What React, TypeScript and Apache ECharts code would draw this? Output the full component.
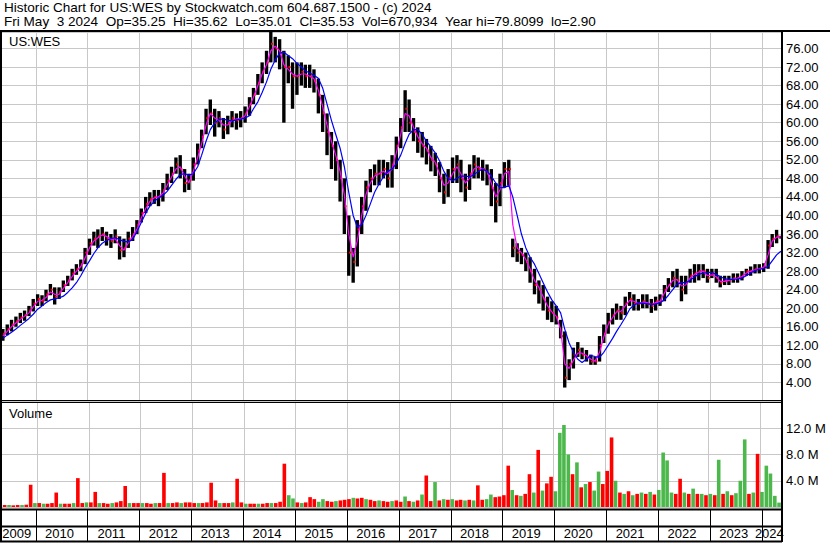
import React, { useEffect, useRef } from 'react';
import * as echarts from 'echarts';

// Monthly samples, May 2009 .. May 2024
const FIRST_YEAR = 2009;
const FIRST_MONTH = 5;

const high = [
  15.5, 16.5, 17.5, 18.2, 19, 19.5, 20.5, 22,
  23, 22.8, 24, 25.2, 24.5, 24.5, 26, 27, 28.5, 29.5, 30.5, 33,
  35, 36.5, 37, 37.5, 36.5, 36, 37, 35.5, 35, 36.5, 37.5, 39,
  41.5, 44, 45, 45.5, 45.5, 47, 49, 50.5, 52.5, 53, 50, 49,
  52.5, 55.5, 58.5, 63, 65, 63, 62.5, 61, 61.5, 62.5, 62, 62.5,
  63.5, 65.5, 67.5, 70.5, 73, 75.5, 79.8, 78.5, 78, 75.5, 74.5, 73,
  73, 73, 72.5, 72.5, 71.5, 69.5, 66, 62, 58, 56, 52, 48,
  40, 33, 39, 44, 47.5, 50, 51, 52, 52, 51.5, 53, 57,
  61, 67, 65, 61, 59, 58, 56.5, 55, 53.5, 51.5, 49, 50,
  52.5, 53, 52, 49, 51, 53, 52.5, 52, 51, 50, 47, 49,
  51.5, 52, 35, 34, 33, 32, 31, 28.5, 26, 25, 22.5, 21.5,
  20.5, 17.5, 15, 9, 11.5, 12.7, 11.5, 11, 10, 9.5, 14, 16.5,
  19, 20, 21, 20.5, 22.5, 23.5, 23, 22, 23, 23, 22, 22.5,
  23, 25, 26.5, 28, 28.5, 27, 27, 28.5, 29.5, 29.5, 29.5, 28.5,
  28.5, 28.5, 27, 27, 27, 27.5, 27.5, 28, 28.5, 29, 29.5, 29.5,
  29.7, 34.7, 36, 36.9, 35.62,
];

const low = [
  13, 14.2, 15, 16, 16.8, 17.3, 18.3, 19.3,
  20.5, 20.5, 21.5, 22.8, 20.8, 22, 23.5, 24.8, 26, 27.2, 28, 29.5,
  31.5, 33.5, 33, 34.5, 33.5, 33, 34, 30.5, 31, 33, 34.5, 36,
  38.5, 40.5, 42, 42.5, 42, 43, 45.5, 47, 49, 48, 45, 45.5,
  47.5, 51, 54.5, 57.5, 59.5, 57, 59, 56.5, 57.5, 59, 58.5, 59,
  60, 61.5, 64, 66, 68.5, 70.5, 73, 73, 71.5, 60, 68.5, 63,
  66, 68, 67.5, 67.5, 66.5, 62, 58, 53, 50, 47.5, 43, 36,
  27, 25.5, 29, 36, 41, 45, 46.5, 46.5, 48, 46, 46, 50,
  54.5, 58, 58, 56, 53.5, 52.5, 51, 49.5, 48.5, 45, 42.5, 44,
  47, 47, 45, 43, 45.5, 48, 48, 47.5, 46.5, 42, 38.5, 42,
  46, 46.5, 31, 30, 29.5, 28, 25.5, 23, 21, 19.5, 17.5, 17,
  16.5, 13.5, 2.9, 4.5, 7, 9.5, 9, 8.5, 7.8, 7.8, 8.5, 12.5,
  14.5, 16.5, 17.5, 17.5, 18.5, 20.5, 19.5, 19.5, 20, 20, 19, 19.5,
  20.5, 21.5, 23.5, 24.5, 24.5, 21.5, 23, 25.5, 25.5, 26, 26.5, 25.5,
  26.5, 25.5, 24.5, 25, 25, 25.5, 25.5, 26, 27, 27, 27.5, 27.5,
  27.8, 28.5, 33.2, 34, 35.01,
];

const close = [
  14.5, 15.5, 16.5, 17.2, 18, 18.5, 19.5, 21,
  22, 21.5, 23, 24, 22.5, 23.5, 25, 26, 27.5, 28.5, 29.5, 32,
  34, 35, 35.5, 36, 35, 34.5, 35.5, 32.5, 33, 35, 36, 38,
  40.5, 42.5, 43.5, 44, 44, 45.5, 47.5, 49, 51, 50, 47, 47.5,
  51, 54, 57, 61, 62, 60, 61, 58.5, 60, 61, 60.5, 61,
  62, 64, 66, 68.5, 71, 73, 77, 76, 75, 72, 72, 70,
  70, 71, 70, 70, 69, 66, 62, 58, 55, 52, 48, 42,
  32, 30, 37, 42, 46, 48, 49, 49, 50, 48, 51, 55,
  59, 63, 60, 58, 56, 55, 54, 52, 51, 48, 45, 48,
  50, 51, 48, 46, 49, 51, 50, 50, 49, 46, 43, 47,
  50, 50, 33, 32, 31.5, 30, 28, 25, 24, 22, 19.5, 19,
  18, 14, 5, 8, 10, 11, 10, 9.5, 8.5, 8.5, 12, 14.5,
  17, 18.5, 19.5, 19, 21, 22, 21, 21, 21.5, 21, 20.5, 21.5,
  21.5, 24, 25, 26.5, 26, 24, 25.5, 27, 27.5, 28, 28, 26.5,
  27.5, 26.5, 25.5, 26, 26, 26.5, 26.5, 27, 28, 28, 28.5, 28.5,
  29, 33.5, 35, 35.5, 35.53,
];

// magenta (short) moving average
const maShort = [
  14, 15, 16, 16.8, 17.6, 18.3, 19, 20.3,
  21.5, 21.7, 22.3, 23.5, 23, 23, 24.3, 25.5, 26.8, 28, 29, 30.8,
  33, 34.5, 35.2, 35.8, 35.5, 34.8, 35, 33.5, 32.5, 34, 35.5, 37,
  39.5, 41.5, 43, 43.8, 44, 44.8, 46.5, 48.3, 50, 50.5, 48.5, 47,
  49.5, 52.5, 55.5, 59.5, 62, 61, 60.5, 59.5, 59.5, 60.5, 60.8, 60.8,
  61.5, 63.5, 65.5, 68, 70.5, 72.5, 75.5, 76.5, 75.5, 72.5, 71.5, 70.5,
  70, 70.5, 70.5, 70, 69.5, 67, 63.5, 59.5, 56, 53, 49.5, 44.5,
  36, 31, 34.5, 40, 44.5, 47, 48.5, 49, 49.5, 49, 50, 53.5,
  57.5, 62, 61.5, 59, 57, 55.5, 54.5, 52.5, 51.5, 49, 46.5, 47,
  49, 50.5, 49, 47, 48, 50, 50.5, 50, 49.5, 47, 44, 45.5,
  49, 49.5, 38, 33, 32, 30.5, 28.5, 26, 24.5, 22.5, 20.5, 19.2,
  18.3, 15.5, 8, 7, 8.8, 10.3, 10.3, 9.8, 9, 8.6, 10.5, 13.8,
  16.5, 18, 19.2, 19.3, 20.5, 21.7, 21.5, 21, 21.3, 21.2, 20.8, 21.2,
  21.5, 23.3, 24.7, 26, 26.2, 24.8, 25, 26.5, 27.3, 27.8, 28, 27,
  27.2, 26.8, 25.8, 25.8, 26, 26.3, 26.5, 26.8, 27.6, 28, 28.3, 28.5,
  28.8, 31.5, 34.5, 35.3, 35.4,
];

// blue (long) moving average
const maLong = [
  13.5, 14.2, 14.8, 15.5, 16.3, 17, 17.8, 18.7,
  19.8, 20.5, 21.2, 21.8, 22, 22.2, 22.6, 23.4, 24.4, 25.5, 27, 28.7,
  30.2, 31.8, 33, 34, 34.6, 35, 35.2, 34.8, 34.4, 34.3, 34.8, 36.5,
  38.5, 40.5, 42, 43, 43.8, 44.3, 45.2, 46.5, 47.8, 48.8, 49, 48.7,
  49, 50.5, 53, 56, 58.5, 60, 60.7, 60.8, 60.5, 60.4, 60.6, 60.8,
  61, 61.5, 63, 64.5, 66.5, 68.8, 71.5, 73.5, 75, 75.2, 74.5, 73.8,
  72.8, 72, 71.2, 70.7, 70.2, 69.6, 67.5, 64, 60.5, 57.5, 54.5, 50.5,
  45, 40, 37.5, 38, 40, 42.5, 45, 46.8, 48.3, 49.5, 50, 51.2,
  53, 55.5, 57.5, 58.5, 58.5, 57.5, 56, 54.8, 53.5, 51.8, 49.5, 48,
  47.5, 48, 48.5, 48.5, 48.3, 48.8, 49.5, 50, 49.5, 48.5, 47, 46,
  46, 46.5, 44, 40, 36, 33, 31, 29.5, 27.5, 25.5, 23.5, 21.8,
  20.5, 19, 15.5, 12.5, 10.5, 9, 8.3, 9, 9.8, 9.6, 9.4, 10.5,
  12, 13.5, 15, 16.5, 18, 19.8, 20.7, 21.1, 21.1, 21, 20.8, 20.9,
  21.2, 21.8, 22.8, 24, 25.2, 25.5, 25.5, 26, 26.8, 27.3, 27.6, 27.7,
  27.7, 27.3, 26.8, 26.4, 26.2, 26.2, 26.3, 26.5, 27, 27.6, 28.1, 28.4,
  28.6, 29, 30.2, 31.5, 32.3,
];

// volume in millions
const volume = [
  0.3, 0.3, 0.25, 0.3, 0.3, 0.35, 3.4, 0.6,
  0.6, 0.5, 0.5, 0.6, 2.2, 0.5, 0.5, 0.5, 0.6, 4.4, 0.6, 0.7,
  0.7, 2.3, 0.6, 0.6, 0.5, 0.6, 0.7, 0.9, 3.2, 0.6, 0.6, 0.6,
  0.6, 0.6, 0.5, 0.6, 0.6, 5.2, 0.6, 0.6, 0.7, 0.6, 0.7, 0.7,
  0.6, 0.6, 0.6, 0.7, 3.7, 1.0, 0.6, 0.6, 0.6, 0.7, 4.3, 0.7,
  0.5, 0.5, 0.5, 0.5, 0.5, 0.6, 0.6, 0.6, 0.8, 6.6, 1.8, 1.3,
  0.7, 0.6, 0.7, 1.5, 1.2, 0.8, 1.2, 0.9, 0.8, 0.9, 1.0, 1.1,
  1.2, 1.4, 1.3, 1.4, 1.2, 1.1, 0.9, 1.0, 0.9, 0.8, 0.9, 1.0,
  0.8, 1.6, 0.9, 0.8, 1.0, 1.9, 4.8, 0.9, 3.8, 1.0, 1.2, 1.1,
  1.2, 1.0, 1.1, 1.0, 1.1, 1.0, 3.3, 1.1, 1.2, 1.9, 1.5, 1.6,
  1.8, 6.3, 2.6, 1.8, 1.7, 2.0, 5.0, 2.2, 8.7, 2.5, 3.6, 4.6,
  2.4, 11.3, 12.5, 8.0, 5.0, 6.8, 3.0, 3.5, 3.8, 2.5, 5.4, 3.5,
  5.5, 10.6, 4.0, 2.2, 2.0, 2.4, 1.8, 2.0, 2.2, 2.0, 2.3, 1.9,
  2.6, 8.3, 7.1, 2.2, 2.0, 4.3, 2.2, 2.0, 2.8, 2.0, 2.0, 1.8,
  2.0, 1.8, 7.2, 2.0, 2.4, 1.8, 2.1, 4.0, 10.3, 2.0, 2.2, 8.1,
  2.3, 6.3, 5.1, 1.7, 0.67,
];

// 1 = up period (green volume), 0 = down period (red volume)
const volUp = [
  0, 1, 0, 0, 1, 0, 0, 1,
  0, 1, 0, 0, 0, 1, 0, 0, 1, 0, 0, 1,
  0, 0, 1, 0, 0, 1, 0, 0, 0, 1, 0, 0,
  1, 0, 0, 1, 0, 0, 1, 0, 0, 1, 0, 0,
  0, 1, 0, 0, 0, 0, 1, 0, 0, 1, 0, 0,
  1, 0, 0, 1, 0, 0, 1, 0, 0, 0, 1, 1,
  0, 1, 0, 0, 0, 1, 1, 0, 0, 1, 0, 0,
  0, 1, 0, 0, 1, 0, 0, 1, 0, 0, 1, 0,
  0, 1, 0, 1, 0, 1, 0, 0, 1, 0, 1, 0,
  1, 0, 0, 1, 0, 1, 0, 0, 1, 1, 0, 0,
  0, 0, 1, 0, 1, 0, 0, 1, 0, 1, 0, 0,
  1, 1, 1, 1, 0, 1, 0, 1, 0, 1, 1, 0,
  0, 0, 1, 0, 1, 0, 1, 0, 1, 0, 1, 0,
  1, 1, 1, 1, 0, 0, 1, 0, 1, 0, 1, 0,
  1, 0, 1, 0, 1, 0, 1, 1, 1, 0, 1, 0,
  1, 1, 1, 1, 1,
];

const yearLabels = [
  '2009', '2010', '2011', '2012', '2013', '2014', '2015', '2016',
  '2017', '2018', '2019', '2020', '2021', '2022', '2023', '2024',
];

const headerLine1 = 'Historic Chart for US:WES by Stockwatch.com 604.687.1500 - (c) 2024';
const headerLine2 = 'Fri May  3 2024  Op=35.25  Hi=35.62  Lo=35.01  Cl=35.53  Vol=670,934  Year hi=79.8099  lo=2.90';
const symbolLabel = 'US:WES';
const volumeLabel = 'Volume';

const FONT = 'Arial, "Liberation Sans", sans-serif';
const GRID_GRAY = '#c8c8c8';
const RED = '#ff0000';
const GREEN = '#4cb84c';

const X_MIN = Date.UTC(2009, 4, 9);
const X_MAX = Date.UTC(2024, 4, 16);
const MONTH_MS = 30.44 * 86400000;

// keep runs of spaces visible in SVG text
const keepSpaces = (s: string) => s.replace(/  /g, ' \u00a0');

export default function App() {
  const ref = useRef<HTMLDivElement>(null);

  useEffect(() => {
    const chart = echarts.init(ref.current!, null, { renderer: 'svg' });

    const times = close.map((_, i) => Date.UTC(FIRST_YEAR, FIRST_MONTH - 1 + i, 15));
    const yearStarts = yearLabels.slice(1).map((y) => Date.UTC(Number(y), 0, 1));

    const yearGridSeries = (idx: number) => ({
      type: 'custom',
      xAxisIndex: idx,
      yAxisIndex: idx,
      z: 1,
      silent: true,
      data: yearStarts.map((t) => [t, 0]),
      encode: { x: 0, y: 1 },
      renderItem: (params: any, api: any) => {
        const x = Math.round(api.coord([api.value(0), 0])[0]) + 0.5;
        const cs = params.coordSys;
        return {
          type: 'line',
          shape: { x1: x, y1: cs.y, x2: x, y2: cs.y + cs.height },
          style: { stroke: GRID_GRAY, lineWidth: 1 },
        };
      },
    });

    const option: any = {
      animation: false,
      backgroundColor: '#ffffff',
      grid: [
        { left: 2, top: 32, width: 779, height: 369 },
        { left: 2, top: 402, width: 779, height: 105 },
        { left: 2, top: 510, width: 779, height: 31 },
      ],
      xAxis: [0, 1, 2].map((i) => ({
        type: 'time',
        gridIndex: i,
        min: X_MIN,
        max: X_MAX,
        show: false,
      })),
      yAxis: [
        {
          type: 'value',
          gridIndex: 0,
          position: 'right',
          min: 0,
          max: 79.55,
          interval: 4,
          axisLine: { show: false },
          axisTick: { show: false },
          axisLabel: {
            formatter: (v: number) => v.toFixed(2),
            color: '#000',
            fontFamily: FONT,
            fontSize: 13,
            margin: 5,
            showMinLabel: false,
            showMaxLabel: false,
          },
          splitLine: { lineStyle: { color: GRID_GRAY, width: 1 } },
        },
        {
          type: 'value',
          gridIndex: 1,
          position: 'right',
          min: 0,
          max: 16,
          interval: 4,
          axisLine: { show: false },
          axisTick: { show: false },
          axisLabel: {
            formatter: (v: number) => v.toFixed(1) + ' M',
            color: '#000',
            fontFamily: FONT,
            fontSize: 13,
            margin: 5,
            showMinLabel: false,
            showMaxLabel: false,
          },
          splitLine: { lineStyle: { color: GRID_GRAY, width: 1 } },
        },
        { type: 'value', gridIndex: 2, min: 0, max: 1, show: false },
      ],
      series: [
        yearGridSeries(0),
        yearGridSeries(1),
        {
          type: 'custom',
          name: 'price',
          xAxisIndex: 0,
          yAxisIndex: 0,
          z: 3,
          silent: true,
          data: times.map((t, i) => [t, high[i], low[i], close[i]]),
          encode: { x: 0, y: [1, 2] },
          renderItem: (params: any, api: any) => {
            const t = api.value(0);
            const pH = api.coord([t, api.value(1)]);
            const pL = api.coord([t, api.value(2)]);
            const pC = api.coord([t, api.value(3)]);
            const w = api.size([MONTH_MS, 0])[0] * 0.78;
            return {
              type: 'group',
              children: [
                {
                  type: 'rect',
                  shape: { x: pH[0] - w / 2, y: pH[1], width: w, height: Math.max(1, pL[1] - pH[1]) },
                  style: { fill: '#000' },
                },
                {
                  type: 'rect',
                  shape: { x: pC[0] + w / 2 - 1.5, y: pC[1] - 1, width: 2, height: 2 },
                  style: { fill: RED },
                },
              ],
            };
          },
        },
        {
          type: 'line',
          name: 'short',
          xAxisIndex: 0,
          yAxisIndex: 0,
          z: 4,
          silent: true,
          showSymbol: false,
          data: times.map((t, i) => [t, maShort[i]]),
          lineStyle: { color: '#ff00ff', width: 1.2 },
        },
        {
          type: 'line',
          name: 'long',
          xAxisIndex: 0,
          yAxisIndex: 0,
          z: 5,
          silent: true,
          showSymbol: false,
          data: times.map((t, i) => [t, maLong[i]]),
          lineStyle: { color: '#0000ff', width: 1.2 },
        },
        {
          type: 'bar',
          name: 'volume',
          xAxisIndex: 1,
          yAxisIndex: 1,
          z: 3,
          silent: true,
          barWidth: 3.6,
          data: times.map((t, i) => [t, volume[i]]),
          itemStyle: { color: (p: any) => (volUp[p.dataIndex] ? GREEN : RED) },
        },
        {
          type: 'custom',
          name: 'years',
          xAxisIndex: 2,
          yAxisIndex: 2,
          silent: true,
          data: yearLabels.map((y) => [Date.UTC(Number(y), 0, 1), 0]),
          encode: { x: 0, y: 1 },
          renderItem: (params: any, api: any) => {
            const y = Number(yearLabels[params.dataIndex]);
            const s = Math.max(Date.UTC(y, 0, 1), X_MIN);
            const e = Math.min(Date.UTC(y + 1, 0, 1), X_MAX);
            const xs = api.coord([s, 0])[0];
            const xe = api.coord([e, 0])[0];
            const cs = params.coordSys;
            const children: any[] = [
              {
                type: 'text',
                style: {
                  text: yearLabels[params.dataIndex],
                  x: (xs + xe) / 2 - 2,
                  y: cs.y + cs.height - 7.5,
                  align: 'center',
                  verticalAlign: 'middle',
                  fill: '#000',
                  fontFamily: FONT,
                  fontSize: 13,
                },
              },
            ];
            if (Date.UTC(y, 0, 1) > X_MIN) {
              const x = Math.round(xs) + 0.5;
              children.push({
                type: 'line',
                shape: { x1: x, y1: cs.y, x2: x, y2: cs.y + cs.height },
                style: { stroke: '#000', lineWidth: 1 },
              });
            }
            return { type: 'group', children };
          },
        },
      ],
      graphic: [
        {
          type: 'text',
          z: 50,
          style: { text: headerLine1, x: 4, y: 7, verticalAlign: 'middle', fill: '#000', fontFamily: FONT, fontSize: 13.55 },
        },
        {
          type: 'text',
          z: 50,
          style: { text: keepSpaces(headerLine2), x: 4, y: 21, verticalAlign: 'middle', fill: '#000', fontFamily: FONT, fontSize: 13.55 },
        },
        {
          type: 'text',
          z: 50,
          style: { text: symbolLabel, x: 9, y: 41, verticalAlign: 'middle', fill: '#000', fontFamily: FONT, fontSize: 13 },
        },
        {
          type: 'text',
          z: 50,
          style: { text: volumeLabel, x: 9, y: 413.5, verticalAlign: 'middle', fill: '#000', fontFamily: FONT, fontSize: 13 },
        },
        { type: 'line', z: 60, shape: { x1: 0, y1: 31, x2: 830, y2: 31 }, style: { stroke: '#000', lineWidth: 2 } },
        { type: 'line', z: 60, shape: { x1: 1, y1: 30, x2: 1, y2: 542 }, style: { stroke: '#000', lineWidth: 2 } },
        { type: 'line', z: 60, shape: { x1: 782, y1: 30, x2: 782, y2: 542 }, style: { stroke: '#000', lineWidth: 2 } },
        { type: 'line', z: 60, shape: { x1: 0, y1: 400.5, x2: 782, y2: 400.5 }, style: { stroke: '#000', lineWidth: 1 } },
        { type: 'line', z: 60, shape: { x1: 0, y1: 402.5, x2: 782, y2: 402.5 }, style: { stroke: '#000', lineWidth: 1 } },
        { type: 'line', z: 60, shape: { x1: 0, y1: 509.5, x2: 782, y2: 509.5 }, style: { stroke: '#000', lineWidth: 2 } },
        { type: 'line', z: 60, shape: { x1: 0, y1: 526.5, x2: 782, y2: 526.5 }, style: { stroke: '#000', lineWidth: 2 } },
        { type: 'line', z: 60, shape: { x1: 0, y1: 541.5, x2: 782, y2: 541.5 }, style: { stroke: '#000', lineWidth: 2 } },
      ],
    };

    chart.setOption(option);
    return () => chart.dispose();
  }, []);

  return (
    <div
      ref={ref}
      style={{ position: 'fixed', left: 0, top: 0, width: 830, height: 543, background: '#fff' }}
    />
  );
}
